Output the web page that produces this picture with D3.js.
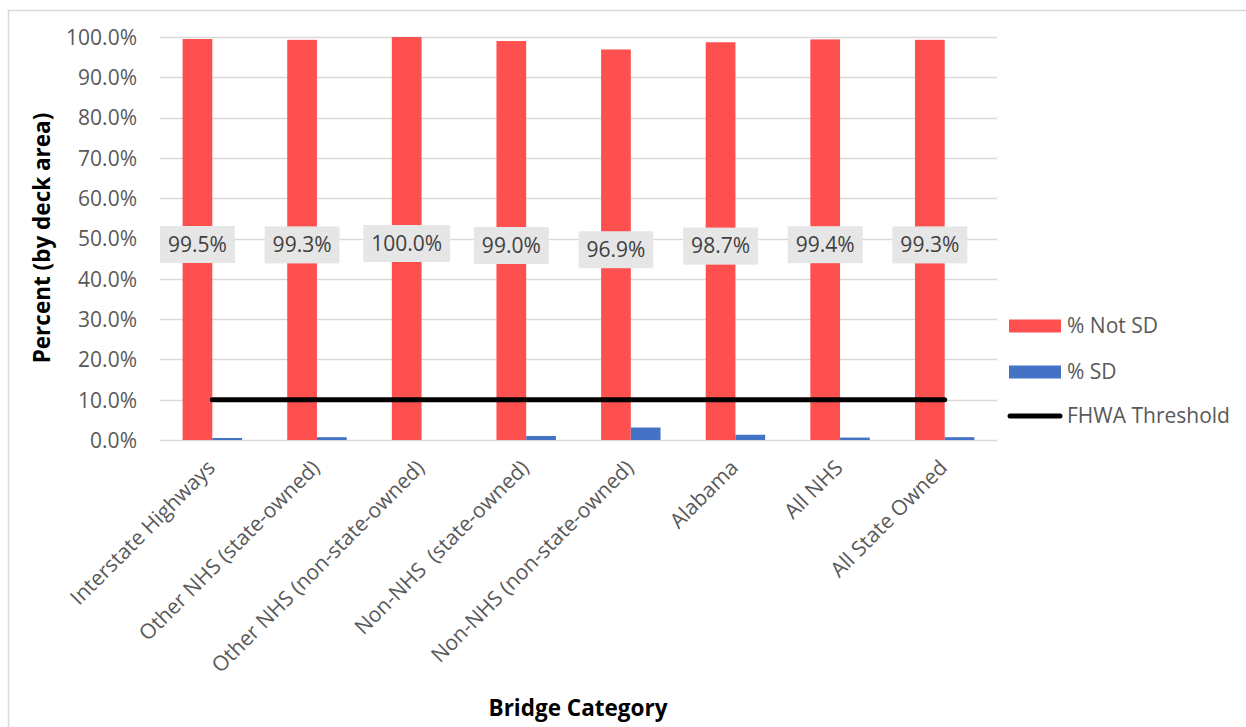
<!DOCTYPE html>
<html>
<head>
<meta charset="utf-8">
<script src="https://cdn.jsdelivr.net/npm/d3@7"></script>
<style>
  html, body { margin: 0; padding: 0; background: #fff; }
  svg { display: block; font-family: "Open Sans", sans-serif; }
</style>
</head>
<body>
<svg id="chart" width="1246" height="727"></svg>
<script>
const categories = [
  "Interstate Highways",
  "Other NHS (state-owned)",
  "Other NHS (non-state-owned)",
  "Non-NHS  (state-owned)",
  "Non-NHS (non-state-owned)",
  "Alabama",
  "All NHS",
  "All State Owned"
];
const notSD = [99.5, 99.3, 100.0, 99.0, 96.9, 98.7, 99.4, 99.3];
const sd = [0.5, 0.7, 0.0, 1.0, 3.1, 1.3, 0.6, 0.7];
const threshold = 10;
const yTicks = [0, 10, 20, 30, 40, 50, 60, 70, 80, 90, 100];
const seriesNames = ["% Not SD", "% SD", "FHWA Threshold"];

const svg = d3.select("#chart");
const plot = { left: 160, right: 997, top: 37, bottom: 440 };
const FS = 21;

// outer border
svg.append("rect")
  .attr("x", 8.5).attr("y", 10.5)
  .attr("width", 1300).attr("height", 800)
  .attr("fill", "#fff").attr("stroke", "#d9d9d9").attr("stroke-width", 1.5);

const x = d3.scaleBand().domain(categories).range([plot.left, plot.right]).paddingInner(0).paddingOuter(0);
const inner = d3.scaleBand().domain(["notSD", "sd"]).range([0, x.bandwidth()]).paddingInner(0).paddingOuter(0.76);
const y = d3.scaleLinear().domain([0, 100]).range([plot.bottom, plot.top]);

// gridlines
svg.append("g").selectAll("line").data(yTicks).join("line")
  .attr("x1", plot.left).attr("x2", plot.right)
  .attr("y1", d => Math.round(y(d)) + 0.5).attr("y2", d => Math.round(y(d)) + 0.5)
  .attr("stroke", "#d9d9d9").attr("stroke-width", 1.5);

// y axis labels
const yAxis = d3.axisLeft(y).tickValues(yTicks).tickSize(0).tickPadding(0)
  .tickFormat(d => d3.format(".1f")(d) + "%");
const yg = svg.append("g").attr("transform", `translate(${plot.left - 23},0)`).call(yAxis);
yg.select(".domain").remove();
yg.selectAll("text").attr("font-size", FS).attr("fill", "#595959")
  .attr("font-family", "Open Sans, sans-serif").attr("dy", "0.35em");

// bars
const groups = svg.append("g").selectAll("g").data(categories).join("g")
  .attr("transform", d => `translate(${x(d)},0)`);
groups.append("rect")
  .attr("x", inner("notSD")).attr("width", inner.bandwidth())
  .attr("y", (d, i) => y(notSD[i])).attr("height", (d, i) => y(0) - y(notSD[i]))
  .attr("fill", "#ff5050");
groups.append("rect")
  .attr("x", inner("sd")).attr("width", inner.bandwidth())
  .attr("y", (d, i) => y(sd[i])).attr("height", (d, i) => y(0) - y(sd[i]))
  .attr("fill", "#4472c4");

// threshold line
const line = d3.line().x(d => x(d) + x.bandwidth() / 2).y(() => y(threshold));
svg.append("path").datum(categories)
  .attr("d", line).attr("fill", "none")
  .attr("stroke", "#000").attr("stroke-width", 5).attr("stroke-linecap", "round");

// data labels
const labels = svg.append("g").selectAll("g").data(categories).join("g")
  .attr("transform", (d, i) => `translate(${x(d) + inner("notSD") + inner.bandwidth() / 2},${y(notSD[i] / 2) + 5})`);
labels.append("text")
  .attr("text-anchor", "middle").attr("dy", "0.35em")
  .attr("font-size", FS).attr("fill", "#404040")
  .text((d, i) => d3.format(".1f")(notSD[i]) + "%");
labels.each(function () {
  const g = d3.select(this);
  const bb = g.select("text").node().getBBox();
  g.insert("rect", "text")
    .attr("x", bb.x - 8).attr("y", -18.5)
    .attr("width", bb.width + 16).attr("height", 37)
    .attr("fill", "#e7e6e6");
});

// x labels
svg.append("g").selectAll("text").data(categories).join("text")
  .attr("transform", d => `translate(${x(d) + x.bandwidth() / 2 + 4},469) rotate(-45)`)
  .attr("text-anchor", "end")
  .attr("font-size", FS).attr("fill", "#595959")
  .style("white-space", "pre")
  .text(d => d);

// axis titles
svg.append("text")
  .attr("x", 578).attr("y", 716)
  .attr("text-anchor", "middle").attr("font-weight", "bold").attr("font-size", 22.5)
  .attr("fill", "#000").text("Bridge Category");
svg.append("text")
  .attr("transform", "translate(50,238) rotate(-90)")
  .attr("text-anchor", "middle").attr("font-weight", "bold").attr("font-size", 22.5)
  .attr("fill", "#000").text("Percent (by deck area)");

// legend
const leg = svg.append("g");
const legY = [326, 372, 416];
leg.append("rect").attr("x", 1009).attr("y", legY[0] - 6.5).attr("width", 52).attr("height", 13).attr("fill", "#ff5050");
leg.append("rect").attr("x", 1009).attr("y", legY[1] - 6.5).attr("width", 52).attr("height", 13).attr("fill", "#4472c4");
leg.append("line").attr("x1", 1010).attr("x2", 1060).attr("y1", legY[2]).attr("y2", legY[2])
  .attr("stroke", "#000").attr("stroke-width", 5).attr("stroke-linecap", "round");
leg.selectAll("text").data(seriesNames).join("text")
  .attr("x", 1067).attr("y", (d, i) => legY[i]).attr("dy", "0.35em")
  .attr("font-size", FS).attr("fill", "#595959").text(d => d);
</script>
</body>
</html>
